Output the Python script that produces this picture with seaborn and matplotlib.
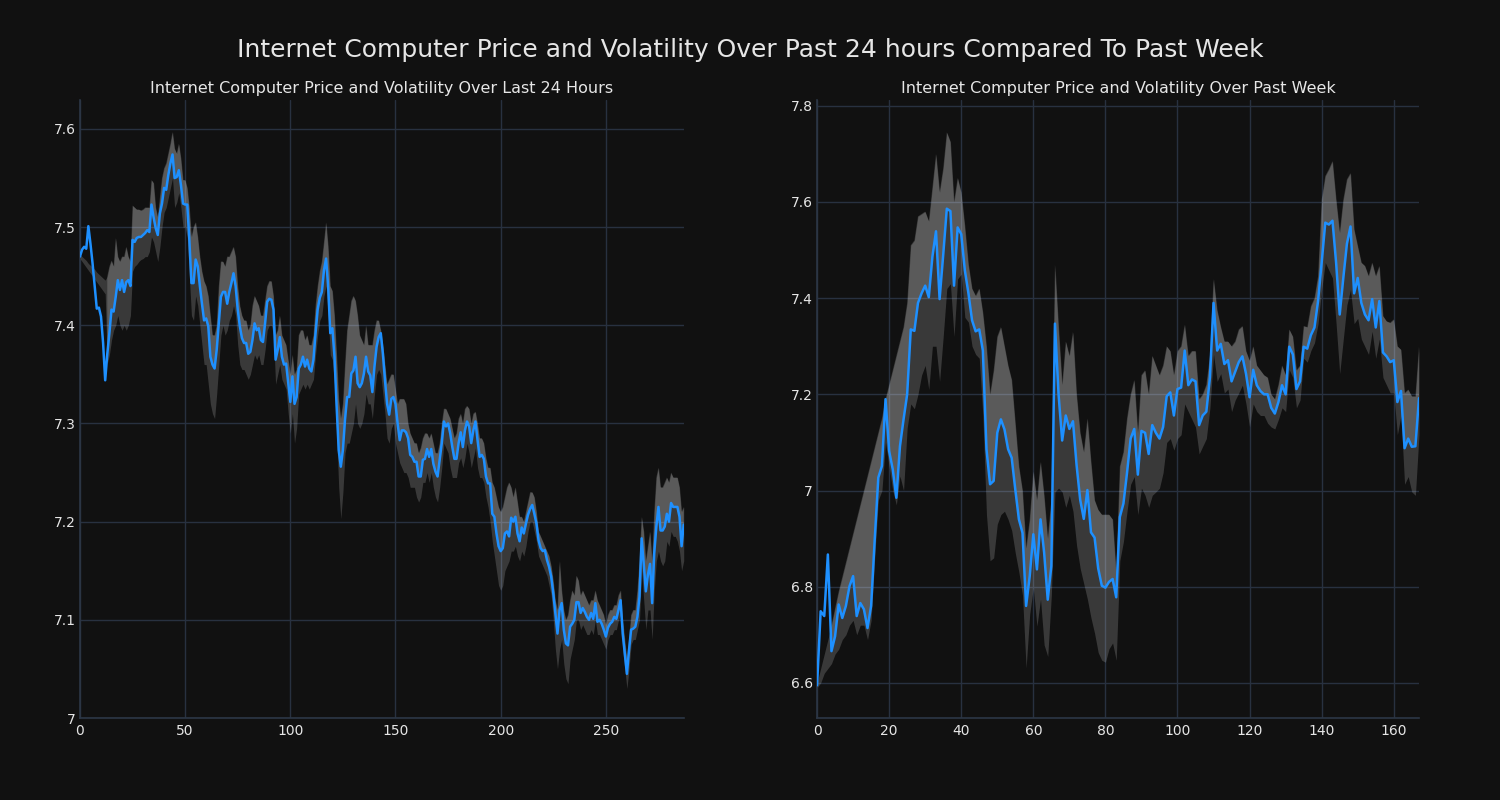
import numpy as np
import matplotlib
matplotlib.use("Agg")
import matplotlib.pyplot as plt
import seaborn as sns
from matplotlib.ticker import FuncFormatter

# ---------------- data: last 24 hours (5-minute steps) ----------------
day_price = [
    7.47, 7.477, 7.48, 7.478, 7.501, 7.483, 7.463, 7.44, 7.417, 7.418,
    7.409, 7.382, 7.344, 7.371, 7.392, 7.416, 7.414, 7.429, 7.446, 7.436,
    7.446, 7.434, 7.444, 7.446, 7.44, 7.487, 7.485, 7.489, 7.49, 7.49,
    7.492, 7.494, 7.497, 7.495, 7.523, 7.51, 7.499, 7.492, 7.514, 7.524,
    7.54, 7.538, 7.553, 7.565, 7.574, 7.55, 7.551, 7.558, 7.543, 7.524,
    7.523, 7.523, 7.487, 7.443, 7.443, 7.467, 7.46, 7.44, 7.422, 7.405,
    7.407, 7.399, 7.368, 7.36, 7.356, 7.375, 7.402, 7.429, 7.434, 7.434,
    7.422, 7.434, 7.443, 7.453, 7.44, 7.416, 7.399, 7.387, 7.382, 7.382,
    7.371, 7.373, 7.385, 7.402, 7.395, 7.397, 7.385, 7.383, 7.402, 7.424,
    7.427, 7.426, 7.416, 7.365, 7.375, 7.388, 7.368, 7.36, 7.361, 7.341,
    7.322, 7.348, 7.32, 7.327, 7.356, 7.36, 7.368, 7.358, 7.365, 7.356,
    7.353, 7.365, 7.392, 7.416, 7.428, 7.434, 7.456, 7.468, 7.439, 7.392,
    7.397, 7.368, 7.318, 7.273, 7.256, 7.273, 7.304, 7.327, 7.327, 7.351,
    7.354, 7.368, 7.341, 7.337, 7.341, 7.351, 7.368, 7.353, 7.349, 7.332,
    7.358, 7.378, 7.388, 7.392, 7.371, 7.344, 7.32, 7.309, 7.325, 7.327,
    7.32, 7.3, 7.283, 7.293, 7.293, 7.291, 7.285, 7.268, 7.266, 7.261,
    7.261, 7.246, 7.246, 7.263, 7.264, 7.274, 7.266, 7.274, 7.259, 7.251,
    7.246, 7.263, 7.28, 7.302, 7.297, 7.3, 7.29, 7.276, 7.264, 7.264,
    7.28, 7.291, 7.276, 7.293, 7.302, 7.297, 7.28, 7.293, 7.302, 7.283,
    7.266, 7.268, 7.264, 7.246, 7.239, 7.239, 7.208, 7.205, 7.188, 7.175,
    7.17, 7.173, 7.188, 7.19, 7.185, 7.204, 7.2, 7.205, 7.188, 7.18,
    7.194, 7.188, 7.198, 7.207, 7.213, 7.217, 7.208, 7.198, 7.181, 7.173,
    7.17, 7.171, 7.161, 7.154, 7.144, 7.127, 7.107, 7.086, 7.11, 7.117,
    7.09, 7.076, 7.074, 7.093, 7.096, 7.1, 7.118, 7.118, 7.107, 7.112,
    7.108, 7.103, 7.1, 7.107, 7.101, 7.117, 7.098, 7.1, 7.096, 7.09,
    7.083, 7.092, 7.096, 7.098, 7.103, 7.101, 7.11, 7.12, 7.086, 7.066,
    7.045, 7.069, 7.09, 7.091, 7.093, 7.103, 7.124, 7.183, 7.157, 7.129,
    7.146, 7.157, 7.117, 7.168, 7.195, 7.215, 7.191, 7.191, 7.195, 7.208,
    7.2, 7.219, 7.215, 7.215, 7.215, 7.205, 7.175, 7.197,
]
day_upper = [
    7.472, 7.47, 7.468, 7.466, 7.463, 7.461, 7.459, 7.457, 7.454, 7.452,
    7.45, 7.448, 7.446, 7.45, 7.46, 7.466, 7.46, 7.489, 7.47, 7.465,
    7.47, 7.47, 7.48, 7.47, 7.465, 7.522, 7.52, 7.518, 7.518, 7.517,
    7.518, 7.52, 7.52, 7.52, 7.548, 7.545, 7.52, 7.51, 7.53, 7.55,
    7.56, 7.565, 7.575, 7.585, 7.597, 7.58, 7.575, 7.585, 7.57, 7.548,
    7.548, 7.54, 7.52, 7.49, 7.5, 7.505, 7.49, 7.47, 7.455, 7.445,
    7.44, 7.43, 7.41, 7.39, 7.39, 7.4, 7.44, 7.465, 7.465, 7.46,
    7.47, 7.47, 7.475, 7.48, 7.47, 7.44, 7.42, 7.41, 7.405, 7.405,
    7.395, 7.4, 7.42, 7.43, 7.425, 7.42, 7.41, 7.41, 7.425, 7.44,
    7.445, 7.445, 7.43, 7.39, 7.395, 7.41, 7.39, 7.385, 7.38, 7.365,
    7.35, 7.37, 7.35, 7.355, 7.39, 7.395, 7.395, 7.385, 7.39, 7.38,
    7.38, 7.39, 7.42, 7.44, 7.455, 7.465, 7.485, 7.505, 7.48, 7.44,
    7.435, 7.41, 7.37, 7.325, 7.305, 7.32, 7.36, 7.395, 7.41, 7.425,
    7.43, 7.425, 7.41, 7.39, 7.385, 7.38, 7.4, 7.38, 7.38, 7.38,
    7.395, 7.405, 7.405, 7.395, 7.38, 7.36, 7.34, 7.345, 7.35, 7.35,
    7.335, 7.32, 7.325, 7.325, 7.325, 7.32, 7.3, 7.29, 7.285, 7.28,
    7.28, 7.27, 7.275, 7.285, 7.29, 7.29, 7.285, 7.29, 7.28, 7.27,
    7.27, 7.28, 7.3, 7.315, 7.315, 7.31, 7.305, 7.295, 7.285, 7.29,
    7.305, 7.31, 7.3, 7.315, 7.318, 7.315, 7.3, 7.31, 7.312, 7.3,
    7.285, 7.285, 7.28, 7.265, 7.255, 7.255, 7.24, 7.235, 7.225, 7.215,
    7.21, 7.215, 7.225, 7.235, 7.24, 7.235, 7.225, 7.235, 7.22, 7.205,
    7.205, 7.2, 7.21, 7.22, 7.23, 7.23, 7.225, 7.21, 7.19, 7.185,
    7.18, 7.175, 7.17, 7.165, 7.155, 7.14, 7.12, 7.11, 7.16, 7.13,
    7.11, 7.1, 7.105, 7.12, 7.13, 7.125, 7.145, 7.14, 7.125, 7.13,
    7.125, 7.12, 7.115, 7.12, 7.12, 7.13, 7.12, 7.115, 7.11, 7.105,
    7.095, 7.105, 7.11, 7.11, 7.115, 7.115, 7.125, 7.13, 7.1, 7.08,
    7.06, 7.08, 7.105, 7.11, 7.11, 7.13, 7.16, 7.205, 7.19, 7.16,
    7.175, 7.19, 7.16, 7.21, 7.245, 7.255, 7.235, 7.235, 7.24, 7.245,
    7.24, 7.25, 7.245, 7.245, 7.245, 7.235, 7.21, 7.215,
]
day_lower = [
    7.468, 7.465, 7.462, 7.459, 7.456, 7.453, 7.45, 7.447, 7.444, 7.441,
    7.438, 7.435, 7.432, 7.361, 7.37, 7.385, 7.395, 7.40, 7.41, 7.40,
    7.395, 7.40, 7.395, 7.40, 7.41, 7.455, 7.46, 7.462, 7.465, 7.467,
    7.468, 7.47, 7.47, 7.475, 7.49, 7.485, 7.475, 7.465, 7.48, 7.5,
    7.515, 7.52, 7.53, 7.54, 7.55, 7.52, 7.525, 7.535, 7.52, 7.5,
    7.5, 7.49, 7.45, 7.41, 7.405, 7.43, 7.42, 7.4, 7.38, 7.36,
    7.36, 7.34, 7.32, 7.31, 7.305, 7.33, 7.36, 7.39, 7.4, 7.39,
    7.395, 7.405, 7.41, 7.42, 7.41, 7.38, 7.36, 7.355, 7.355, 7.35,
    7.345, 7.35, 7.36, 7.37, 7.365, 7.37, 7.36, 7.36, 7.375, 7.395,
    7.4, 7.4, 7.39, 7.34, 7.35, 7.36, 7.345, 7.34, 7.335, 7.31,
    7.29, 7.31, 7.28, 7.295, 7.33, 7.335, 7.34, 7.335, 7.34, 7.335,
    7.34, 7.345, 7.37, 7.39, 7.405, 7.41, 7.43, 7.44, 7.41, 7.37,
    7.365, 7.34, 7.29, 7.235, 7.203, 7.23, 7.27, 7.28, 7.28, 7.29,
    7.3, 7.32, 7.3, 7.295, 7.3, 7.31, 7.33, 7.32, 7.32, 7.305,
    7.33, 7.35, 7.355, 7.35, 7.33, 7.31, 7.285, 7.28, 7.295, 7.3,
    7.28, 7.27, 7.26, 7.255, 7.25, 7.25, 7.245, 7.235, 7.235, 7.235,
    7.225, 7.22, 7.225, 7.24, 7.24, 7.25, 7.24, 7.25, 7.235, 7.225,
    7.22, 7.235, 7.255, 7.28, 7.275, 7.27, 7.255, 7.245, 7.245, 7.245,
    7.26, 7.265, 7.255, 7.265, 7.28, 7.27, 7.255, 7.265, 7.275, 7.255,
    7.245, 7.245, 7.24, 7.225, 7.215, 7.2, 7.18, 7.165, 7.15, 7.135,
    7.13, 7.135, 7.15, 7.155, 7.16, 7.17, 7.17, 7.175, 7.165, 7.16,
    7.17, 7.165, 7.175, 7.19, 7.2, 7.2, 7.19, 7.18, 7.165, 7.16,
    7.155, 7.15, 7.145, 7.135, 7.125, 7.1, 7.07, 7.05, 7.07, 7.08,
    7.055, 7.04, 7.035, 7.06, 7.07, 7.08, 7.1, 7.1, 7.09, 7.095,
    7.09, 7.085, 7.085, 7.09, 7.085, 7.1, 7.085, 7.085, 7.08, 7.075,
    7.07, 7.08, 7.085, 7.085, 7.09, 7.09, 7.1, 7.105, 7.07, 7.05,
    7.03, 7.05, 7.075, 7.08, 7.08, 7.09, 7.1, 7.15, 7.12, 7.09,
    7.11, 7.11, 7.08, 7.13, 7.16, 7.17, 7.16, 7.155, 7.16, 7.18,
    7.175, 7.19, 7.185, 7.185, 7.18, 7.17, 7.15, 7.16,
]

# ---------------- data: past week (hourly steps) ----------------
week_price = [
    6.595, 6.749, 6.739, 6.867, 6.666, 6.697, 6.763, 6.735, 6.76, 6.801,
    6.822, 6.739, 6.766, 6.753, 6.714, 6.76, 6.898, 7.027, 7.051, 7.19,
    7.082, 7.044, 6.985, 7.092, 7.148, 7.2, 7.335, 7.332, 7.39, 7.41,
    7.426, 7.402, 7.486, 7.539, 7.398, 7.49, 7.586, 7.581, 7.426, 7.547,
    7.533, 7.458, 7.41, 7.354, 7.331, 7.335, 7.291, 7.086, 7.013, 7.02,
    7.12, 7.148, 7.127, 7.086, 7.068, 7.002, 6.94, 6.912, 6.76, 6.822,
    6.909, 6.836, 6.94, 6.871, 6.773, 6.843, 7.347, 7.2, 7.104, 7.156,
    7.128, 7.144, 7.053, 6.981, 6.941, 7.001, 6.913, 6.902, 6.838, 6.802,
    6.798, 6.81, 6.816, 6.778, 6.945, 6.973, 7.037, 7.108, 7.128, 7.033,
    7.124, 7.12, 7.076, 7.136, 7.12, 7.108, 7.132, 7.196, 7.204, 7.156,
    7.211, 7.214, 7.291, 7.219, 7.231, 7.227, 7.136, 7.156, 7.164, 7.235,
    7.39, 7.291, 7.305, 7.263, 7.271, 7.227, 7.247, 7.267, 7.279, 7.243,
    7.194, 7.251, 7.219, 7.207, 7.2, 7.2, 7.172, 7.16, 7.184, 7.219,
    7.2, 7.299, 7.283, 7.211, 7.227, 7.299, 7.295, 7.323, 7.339, 7.394,
    7.474, 7.557, 7.553, 7.561, 7.474, 7.366, 7.442, 7.513, 7.549, 7.41,
    7.442, 7.39, 7.366, 7.354, 7.398, 7.339, 7.394, 7.287, 7.279, 7.267,
    7.271, 7.184, 7.207, 7.088, 7.108, 7.091, 7.092, 7.192,
]
week_upper = [
    6.6, 6.63, 6.66, 6.69, 6.72, 6.755, 6.79, 6.82, 6.85, 6.88,
    6.91, 6.94, 6.97, 7.0, 7.03, 7.06, 7.09, 7.12, 7.15, 7.19,
    7.22, 7.25, 7.28, 7.31, 7.34, 7.39, 7.51, 7.52, 7.57, 7.575,
    7.58, 7.56, 7.63, 7.70, 7.62, 7.67, 7.745, 7.725, 7.6, 7.65,
    7.62, 7.55, 7.47, 7.42, 7.405, 7.42, 7.37, 7.3, 7.2, 7.25,
    7.32, 7.34, 7.3, 7.26, 7.23, 7.14, 7.05, 7.0, 6.88, 6.94,
    7.04, 6.98, 7.06, 6.99, 6.9, 6.98, 7.47, 7.34, 7.22, 7.31,
    7.28, 7.33, 7.2, 7.12, 7.08, 7.15, 7.06, 6.98, 6.96, 6.95,
    6.95, 6.95, 6.94, 6.83, 7.05, 7.08, 7.15, 7.2, 7.23, 7.12,
    7.24, 7.25, 7.2, 7.28, 7.26, 7.24, 7.26, 7.3, 7.29, 7.24,
    7.29, 7.3, 7.345, 7.28, 7.29, 7.29, 7.19, 7.2, 7.22, 7.28,
    7.44, 7.375, 7.34, 7.31, 7.31, 7.3, 7.31, 7.335, 7.342, 7.29,
    7.27, 7.3, 7.26, 7.25, 7.24, 7.235, 7.2, 7.19, 7.22, 7.26,
    7.24, 7.335, 7.32, 7.25, 7.26, 7.342, 7.34, 7.383, 7.4, 7.446,
    7.605, 7.654, 7.668, 7.685, 7.605, 7.536, 7.605, 7.647, 7.66, 7.543,
    7.508, 7.474, 7.467, 7.446, 7.474, 7.446, 7.467, 7.363, 7.352, 7.349,
    7.356, 7.3, 7.293, 7.203, 7.21, 7.196, 7.196, 7.3,
]
week_lower = [
    6.59, 6.6, 6.62, 6.63, 6.64, 6.66, 6.67, 6.69, 6.7, 6.72,
    6.73, 6.7, 6.72, 6.72, 6.69, 6.73, 6.86, 6.98, 7.0, 7.1,
    7.05, 7.0, 6.97, 7.03, 7.0, 7.13, 7.18, 7.17, 7.2, 7.24,
    7.26, 7.21, 7.3, 7.3, 7.227, 7.32, 7.42, 7.43, 7.32, 7.44,
    7.45, 7.36, 7.35, 7.3, 7.283, 7.275, 7.156, 6.95, 6.854, 6.86,
    6.93, 6.95, 6.957, 6.94, 6.917, 6.87, 6.83, 6.782, 6.631, 6.743,
    6.798, 6.718, 6.774, 6.679, 6.655, 6.782, 6.997, 7.005, 6.997, 6.965,
    6.99, 6.957, 6.886, 6.838, 6.806, 6.774, 6.735, 6.703, 6.663, 6.647,
    6.643, 6.671, 6.683, 6.647, 6.854, 6.894, 6.957, 7.013, 7.029, 6.95,
    7.005, 6.99, 6.965, 6.99, 6.997, 7.005, 7.037, 7.1, 7.108, 7.084,
    7.108, 7.116, 7.18, 7.164, 7.148, 7.132, 7.076, 7.092, 7.108, 7.172,
    7.283, 7.227, 7.243, 7.203, 7.211, 7.164, 7.188, 7.203, 7.219, 7.18,
    7.132, 7.18, 7.164, 7.156, 7.156, 7.14, 7.132, 7.128, 7.148, 7.172,
    7.164, 7.251, 7.235, 7.172, 7.188, 7.275, 7.267, 7.291, 7.307, 7.347,
    7.418, 7.474, 7.458, 7.442, 7.347, 7.243, 7.315, 7.386, 7.418, 7.347,
    7.358, 7.315, 7.299, 7.283, 7.331, 7.275, 7.315, 7.235, 7.219, 7.203,
    7.203, 7.116, 7.156, 7.013, 7.029, 6.997, 6.99, 7.116,
]

day_ticks_x = [0, 50, 100, 150, 200, 250]
day_ticks_y = [7.0, 7.1, 7.2, 7.3, 7.4, 7.5, 7.6]
week_ticks_x = [0, 20, 40, 60, 80, 100, 120, 140, 160]
week_ticks_y = [6.6, 6.8, 7.0, 7.2, 7.4, 7.6, 7.8]

suptitle = "Internet Computer Price and Volatility Over Past 24 hours Compared To Past Week"
title_day = "Internet Computer Price and Volatility Over Last 24 Hours"
title_week = "Internet Computer Price and Volatility Over Past Week"

# ---------------- style ----------------
BG = "#111111"
GRID = "#283140"
TEXT = "#e6e6e6"
LINE = "#1e90ff"

sns.set_theme(style="dark", rc={
    "figure.facecolor": BG,
    "axes.facecolor": BG,
    "axes.edgecolor": GRID,
    "grid.color": GRID,
    "text.color": TEXT,
    "xtick.color": TEXT,
    "ytick.color": TEXT,
    "axes.labelcolor": TEXT,
})
plt.rcParams["font.family"] = ["DejaVu Sans"]

fig = plt.figure(figsize=(15, 8), dpi=100, facecolor=BG)
ax1 = fig.add_axes([0.0533, 0.1025, 0.4025, 0.7725])
ax2 = fig.add_axes([0.5447, 0.1025, 0.4013, 0.7725])


def draw(ax, price, lower, upper, title, xt, yt, ylim):
    p = np.asarray(price, dtype=float)
    lo = np.asarray(lower, dtype=float)
    hi = np.asarray(upper, dtype=float)
    x = np.arange(len(p))
    ax.set_axisbelow(True)
    ax.grid(True, color=GRID, linewidth=1.0)
    ax.fill_between(x, lo, hi, color="white", alpha=0.17, linewidth=0, zorder=2)
    inside = (p >= lo) & (p <= hi)
    ax.fill_between(x, p, hi, where=inside, interpolate=True,
                    color="white", alpha=0.17, linewidth=0, zorder=2)
    sns.lineplot(x=x, y=p, ax=ax, color=LINE, linewidth=1.8, zorder=3)
    ax.set_xlim(0, len(p) - 1)
    ax.set_ylim(*ylim)
    ax.set_xticks(xt)
    ax.set_yticks(yt)
    ax.yaxis.set_major_formatter(FuncFormatter(lambda v, _: f"{v:g}"))
    ax.xaxis.set_major_formatter(FuncFormatter(lambda v, _: f"{v:g}"))
    ax.tick_params(axis="both", length=0, pad=4, labelsize=10, colors=TEXT)
    ax.tick_params(axis="y", pad=3)
    for s in ["top", "right"]:
        ax.spines[s].set_visible(False)
    for s in ["left", "bottom"]:
        ax.spines[s].set_visible(True)
        ax.spines[s].set_color("#2c3746")
        ax.spines[s].set_linewidth(1.2)
    ax.set_xlabel("")
    ax.set_ylabel("")
    ax.set_title(title, color=TEXT, fontsize=11.5, pad=5)


draw(ax1, day_price, day_lower, day_upper, title_day,
     day_ticks_x, day_ticks_y, (7.0, 7.6295))
draw(ax2, week_price, week_lower, week_upper, title_week,
     week_ticks_x, week_ticks_y, (6.527, 7.812))

fig.suptitle(suptitle, color=TEXT, fontsize=18, y=0.937, va="center")

fig.savefig("out.png", dpi=100, facecolor=BG)
